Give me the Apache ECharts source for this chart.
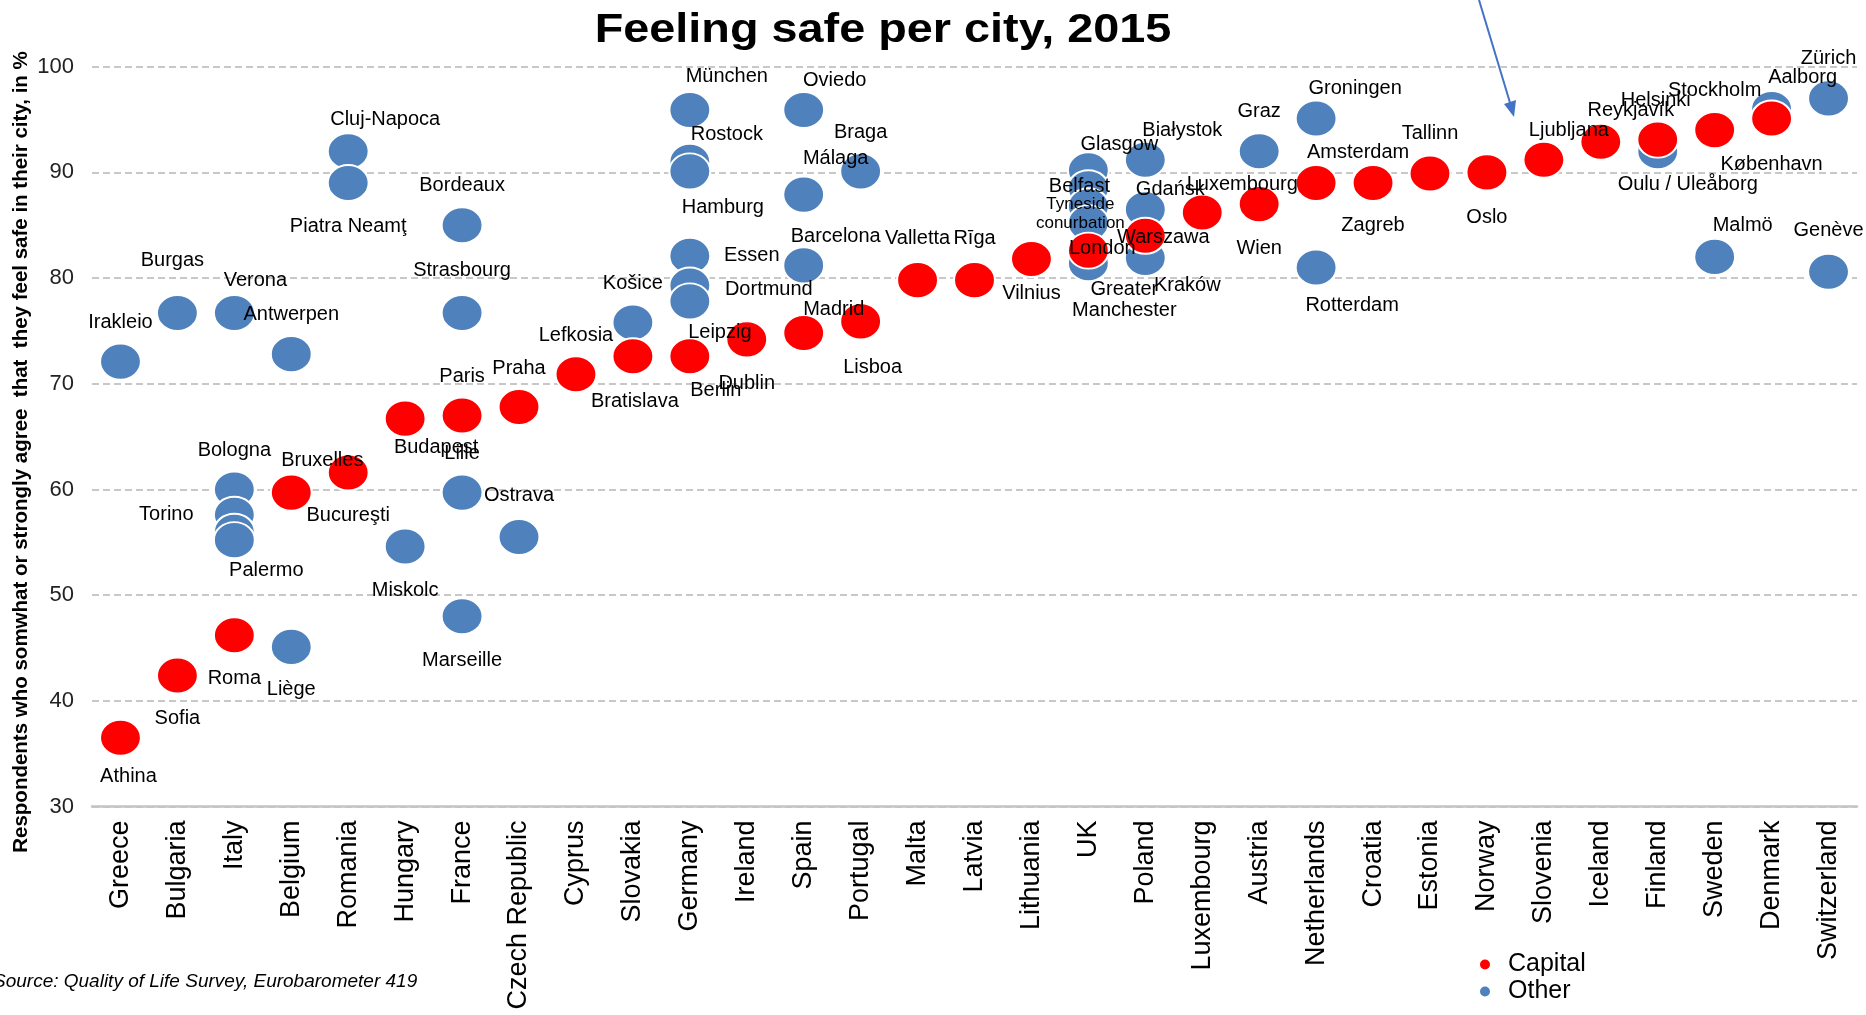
<!DOCTYPE html>
<html>
<head>
<meta charset="utf-8">
<title>Feeling safe per city, 2015</title>
<script src="https://cdn.jsdelivr.net/npm/echarts@6/dist/echarts.min.js"></script>
<style>
  html, body { margin: 0; padding: 0; background: #fff; }
  #myChart { width: 1866px; height: 1015px; }
</style>
</head>
<body>
<div id="myChart"></div>
<script>
// categories
const countries = ['Greece', 'Bulgaria', 'Italy', 'Belgium', 'Romania', 'Hungary', 'France', 'Czech Republic',
  'Cyprus', 'Slovakia', 'Germany', 'Ireland', 'Spain', 'Portugal', 'Malta', 'Latvia', 'Lithuania', 'UK',
  'Poland', 'Luxembourg', 'Austria', 'Netherlands', 'Croatia', 'Estonia', 'Norway', 'Slovenia', 'Iceland',
  'Finland', 'Sweden', 'Denmark', 'Switzerland']

// capital cities
const capitalCity = ['Athina', 'Sofia', 'Roma', 'Bruxelles', 'Bucureşti', 'Budapest', 'Paris', 'Praha',
  'Lefkosia', 'Bratislava', 'Berlin', 'Dublin', 'Madrid', 'Lisboa', 'Valletta', 'Rīga', 'Vilnius', 'London',
  'Warszawa', 'Luxembourg', 'Wien', 'Amsterdam', 'Zagreb', 'Tallinn', 'Oslo', 'Ljubljana', 'Reykjavík',
  'Helsinki', 'Stockholm', 'København']
const capitalCountry = ['Greece', 'Bulgaria', 'Italy', 'Belgium', 'Romania', 'Hungary', 'France', 'Czech Republic',
  'Cyprus', 'Slovakia', 'Germany', 'Ireland', 'Spain', 'Portugal', 'Malta', 'Latvia', 'Lithuania', 'UK',
  'Poland', 'Luxembourg', 'Austria', 'Netherlands', 'Croatia', 'Estonia', 'Norway', 'Slovenia', 'Iceland',
  'Finland', 'Sweden', 'Denmark']
const capitalValue = [36.5, 42.4, 46.2, 59.7, 61.6, 66.7, 67.0, 67.8,
  70.9, 72.6, 72.6, 74.2, 74.8, 75.9, 79.8, 79.8, 81.8, 82.6,
  84.0, 86.2, 87.0, 89.0, 89.0, 89.9, 90.0, 91.2, 92.9,
  93.1, 94.0, 95.1]

// other cities
const otherCity = ['Irakleio', 'Burgas', 'Verona', 'Bologna', 'Torino', 'Napoli', 'Palermo', 'Antwerpen', 'Liège',
  'Cluj-Napoca', 'Piatra Neamţ', 'Miskolc', 'Bordeaux', 'Strasbourg', 'Lille', 'Marseille', 'Ostrava', 'Košice',
  'München', 'Rostock', 'Hamburg', 'Essen', 'Dortmund', 'Leipzig', 'Oviedo', 'Málaga', 'Barcelona', 'Braga',
  'Glasgow', 'Belfast', 'Tyneside conurbation', 'Cardiff', 'Greater Manchester', 'Białystok', 'Gdańsk', 'Kraków',
  'Graz', 'Groningen', 'Rotterdam', 'Oulu / Uleåborg', 'Malmö', 'Aalborg', 'Zürich', 'Genève']
const otherCountry = ['Greece', 'Bulgaria', 'Italy', 'Italy', 'Italy', 'Italy', 'Italy', 'Belgium', 'Belgium',
  'Romania', 'Romania', 'Hungary', 'France', 'France', 'France', 'France', 'Czech Republic', 'Slovakia',
  'Germany', 'Germany', 'Germany', 'Germany', 'Germany', 'Germany', 'Spain', 'Spain', 'Spain', 'Portugal',
  'UK', 'UK', 'UK', 'UK', 'UK', 'Poland', 'Poland', 'Poland',
  'Austria', 'Netherlands', 'Netherlands', 'Finland', 'Sweden', 'Denmark', 'Switzerland', 'Switzerland']
const otherValue = [72.1, 76.7, 76.7, 60.0, 57.6, 56.0, 55.2, 72.8, 45.1,
  92.0, 89.0, 54.6, 85.0, 76.7, 59.7, 48.0, 55.5, 75.8,
  95.9, 91.0, 90.1, 82.1, 79.3, 77.8, 95.9, 87.9, 81.2, 90.1,
  90.2, 88.5, 86.8, 85.2, 81.4, 91.2, 86.5, 81.9,
  92.0, 95.1, 81.0, 92.0, 82.0, 96.0, 97.0, 80.6]

// y axis ticks
const yMin = 30
const yMax = 100
const yStep = 10

// where each city name sits relative to its dot, [dx, dy] in px
const labelOffset = {
  'Irakleio': [0, -39], 'Athina': [8, 39], 'Burgas': [-5, -52], 'Sofia': [0, 43],
  'Verona': [21, -32], 'Bologna': [0, -39], 'Torino': [-68, 0], 'Palermo': [32, 30], 'Roma': [0, 43],
  'Antwerpen': [0, -40], 'Bruxelles': [31, -32], 'Liège': [0, 43],
  'Cluj-Napoca': [37, -32], 'Piatra Neamţ': [0, 44], 'Bucureşti': [0, 43],
  'Budapest': [31, 29], 'Miskolc': [0, 44],
  'Bordeaux': [0, -40], 'Strasbourg': [0, -42], 'Paris': [0, -39], 'Lille': [0, -39], 'Marseille': [0, 44],
  'Praha': [0, -39], 'Ostrava': [0, -42], 'Lefkosia': [0, -39],
  'Košice': [0, -39], 'Bratislava': [2, 45],
  'München': [37, -34], 'Rostock': [37, -27], 'Hamburg': [33, 36], 'Essen': [62, 0], 'Dortmund': [79, 4],
  'Leipzig': [30, 31], 'Berlin': [26, 34], 'Dublin': [0, 44],
  'Oviedo': [31, -30], 'Málaga': [32, -36], 'Barcelona': [32, -29], 'Madrid': [30, -24],
  'Braga': [0, -39], 'Lisboa': [12, 46], 'Valletta': [0, -42], 'Rīga': [0, -42], 'Vilnius': [0, 34],
  'Glasgow': [31, -26], 'Belfast': [-9, -2], 'Tyneside conurbation': [-8, 8], 'London': [14, -2],
  'Greater Manchester': [36, 37],
  'Białystok': [37, -29], 'Gdańsk': [25, -20], 'Warszawa': [18, 2], 'Kraków': [42, 27],
  'Luxembourg': [40, -28], 'Graz': [0, -40], 'Wien': [0, 44],
  'Groningen': [39, -30], 'Amsterdam': [42, -30], 'Rotterdam': [36, 38], 'Zagreb': [0, 43],
  'Tallinn': [0, -40], 'Oslo': [0, 45], 'Ljubljana': [25, -29], 'Reykjavík': [30, -31],
  'Helsinki': [-2, -39], 'Oulu / Uleåborg': [30, 33], 'Stockholm': [0, -40], 'Malmö': [28, -31],
  'København': [0, 46], 'Aalborg': [31, -31], 'Zürich': [0, -40], 'Genève': [0, -41]
}
const unlabeled = ['Napoli', 'Cardiff']
const labelExtra = {
  'Tyneside conurbation': { formatter: 'Tyneside\nconurbation', fontSize: 17, lineHeight: 19 },
  'Greater Manchester': { formatter: 'Greater\nManchester', lineHeight: 21 }
}

const FONT = "'Liberation Sans', Arial, sans-serif"

function buildPoints(cities, ctry, vals) {
  return cities.map((c, i) => {
    let label = { offset: labelOffset[c] || [0, 0] }
    if (unlabeled.includes(c)) label = { show: false }
    if (labelExtra[c]) label = Object.assign(label, labelExtra[c])
    return { name: c, value: [ctry[i], vals[i]], label: label }
  })
}

let myChart = echarts.init(document.getElementById('myChart'))
let option = {
  animation: false,
  textStyle: { fontFamily: FONT },
  legend: {
    data: ['Capital', 'Other'],
    orient: 'vertical',
    left: 1478,
    top: 952,
    padding: 0,
    itemGap: 2,
    itemWidth: 12,
    itemHeight: 12,
    icon: 'circle',
    textStyle: { fontSize: 25, color: '#000', fontFamily: FONT, padding: [0, 0, 0, 12] }
  },
  grid: { left: 92, right: 9, top: 66.7, bottom: 208.5, containLabel: false },
  xAxis: {
    type: 'category',
    data: countries,
    boundaryGap: true,
    axisTick: { show: false },
    axisLine: { lineStyle: { color: '#c4c4c4', width: 2.5 } },
    axisLabel: { interval: 0, rotate: 90, fontSize: 27, color: '#000', margin: 14, fontFamily: FONT },
    splitLine: { show: false }
  },
  yAxis: {
    type: 'value',
    min: yMin,
    max: yMax,
    interval: yStep,
    axisLine: { show: false },
    axisTick: { show: false },
    axisLabel: { fontSize: 22, color: '#222', margin: 18, fontFamily: FONT },
    splitLine: { lineStyle: { color: '#c8c8c8', width: 2, type: [7, 4] } }
  },
  series: [
    {
      name: 'Other',
      type: 'scatter',
      symbol: 'circle',
      symbolSize: [41, 36],
      itemStyle: { color: '#4f81bd', opacity: 1, borderColor: '#fff', borderWidth: 2 },
      label: { show: true, position: 'inside', formatter: '{b}', color: '#000', fontSize: 20, fontFamily: FONT },
      data: buildPoints(otherCity, otherCountry, otherValue)
    },
    {
      name: 'Capital',
      type: 'scatter',
      symbol: 'circle',
      symbolSize: [41, 36],
      itemStyle: { color: '#ff0000', opacity: 1, borderColor: '#fff', borderWidth: 2 },
      label: { show: true, position: 'inside', formatter: '{b}', color: '#000', fontSize: 20, fontFamily: FONT },
      data: buildPoints(capitalCity, capitalCountry, capitalValue)
    }
  ],
  graphic: [
    {
      type: 'text',
      x: 883, y: 31,
      scaleX: 1.17,
      style: {
        text: 'Feeling safe per city, 2015',
        fontSize: 40, fontWeight: 'bold', fill: '#000', fontFamily: FONT,
        textAlign: 'center', textVerticalAlign: 'middle'
      }
    },
    {
      type: 'text',
      x: 21, y: 452,
      rotation: Math.PI / 2,
      style: {
        text: 'Respondents who somwhat or strongly agree  that  they feel safe in their city, in %',
        fontSize: 20.5, fontWeight: 'bold', fill: '#000', fontFamily: FONT,
        textAlign: 'center', textVerticalAlign: 'middle'
      }
    },
    {
      type: 'text',
      x: -7, y: 982,
      style: {
        text: 'Source: Quality of Life Survey, Eurobarometer 419',
        fontSize: 19, fontStyle: 'italic', fill: '#000',
        fontFamily: "'Liberation Sans Narrow', 'Liberation Sans', sans-serif",
        textVerticalAlign: 'middle'
      }
    },
    // pointer arrow at the top
    {
      type: 'line',
      shape: { x1: 1479, y1: 0, x2: 1511, y2: 106 },
      style: { stroke: '#4472c4', lineWidth: 2 }
    },
    {
      type: 'polygon',
      shape: { points: [[1514, 117], [1504, 104], [1516, 100]] },
      style: { fill: '#4472c4' }
    }
  ]
}
myChart.setOption(option)
</script>
</body>
</html>
